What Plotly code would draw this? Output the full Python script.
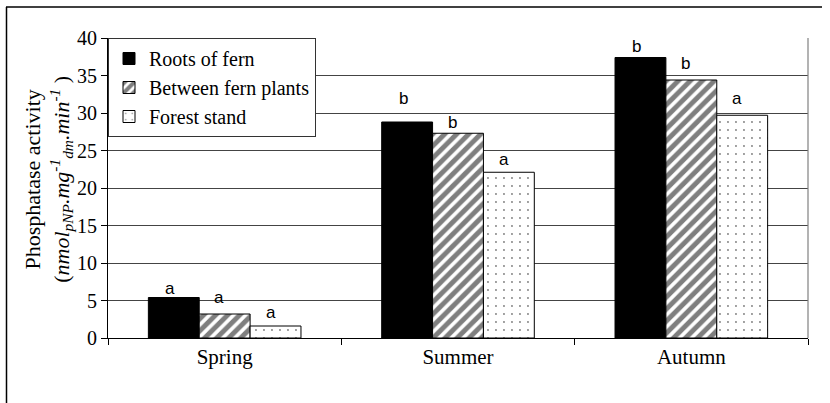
import plotly.graph_objects as go

# Seasonal phosphatase activity for three soil positions
seasons = ["Spring", "Summer", "Autumn"]
series_names = ["Roots of fern", "Between fern plants", "Forest stand"]
roots_of_fern = [5.4, 28.8, 37.4]
between_fern_plants = [3.2, 27.3, 34.4]
forest_stand = [1.6, 22.1, 29.7]
# significance letters above each bar
letters_roots = ["a", "b", "b"]
letters_between = ["a", "b", "b"]
letters_forest = ["a", "a", "a"]
y_ticks = [0, 5, 10, 15, 20, 25, 30, 35, 40]

values = [roots_of_fern, between_fern_plants, forest_stand]
letters = [letters_roots, letters_between, letters_forest]

# fill styles: solid, diagonal hatch, fine staggered dots
styles = [
    dict(color="black", pattern=None),
    dict(color="white", pattern=dict(shape="/", fgcolor="black", bgcolor="white",
                                     size=8.5, solidity=0.58, fillmode="overlay")),
    dict(color="white", pattern=dict(shape=".", fgcolor="black", bgcolor="white",
                                     size=8, solidity=0.045, fillmode="overlay")),
]

fig = go.Figure()
for name, vals, st in zip(series_names, values, styles):
    marker = dict(color=st["color"], line=dict(color="black", width=1))
    if st["pattern"] is not None:
        marker["pattern"] = st["pattern"]
    fig.add_trace(go.Bar(x=seasons, y=vals, name=name, marker=marker))

# letter placement (pixel offsets above each bar top, and horizontal nudge)
lift_px = [[9, 24, 11], [17, 11, 17], [14, 13, 17]]
nudge_px = [-4, -6, -5]
offsets = [-1, 0, 1]  # bar position inside each group
for s in range(3):
    for i, season in enumerate(seasons):
        fig.add_annotation(
            x=i + offsets[s] * (1 - 0.346) / 3, y=values[s][i], xref="x", yref="y",
            text=letters[s][i], showarrow=False, yanchor="middle",
            yshift=lift_px[s][i], xshift=nudge_px[s],
            font=dict(family="Liberation Sans, Arial", size=17, color="black"),
        )

L, R, T, B = 108, 22, 38, 64.5
W, H = 830, 403
pw, ph = W - L - R, H - T - B

def px_x(p):
    return (p - L) / pw

def px_y(p):
    return (H - B - p) / ph

# outer frame (top and left edges)
fig.add_shape(type="line", xref="paper", yref="paper", x0=px_x(6), x1=px_x(822),
              y0=px_y(7), y1=px_y(7), line=dict(color="black", width=1.5))
fig.add_shape(type="line", xref="paper", yref="paper", x0=px_x(6.5), x1=px_x(6.5),
              y0=px_y(7), y1=px_y(410), line=dict(color="black", width=1.5))
# plot-area border on the right
fig.add_shape(type="line", xref="paper", yref="paper", x0=1, x1=1, y0=0, y1=1,
              line=dict(color="#808080", width=1.2))

# y axis title
fig.add_annotation(
    xref="paper", yref="paper", x=px_x(48), y=px_y(180), xanchor="center", yanchor="middle",
    textangle=-90, showarrow=False,
    text="Phosphatase activity<br>(<i>nmol<sub>pNP</sub>.mg<sup>-1</sup><sub>dm</sub>.min<sup>-1</sup></i> )",
    font=dict(family="Liberation Serif, Times New Roman", size=22, color="black"),
)

fig.update_layout(
    width=W, height=H,
    margin=dict(l=L, r=R, t=T, b=B, pad=0),
    paper_bgcolor="white", plot_bgcolor="white",
    barmode="group", bargap=0.346, bargroupgap=0,
    font=dict(family="Liberation Serif, Times New Roman", size=21, color="black"),
    showlegend=True,
    legend=dict(x=0, y=1, xanchor="left", yanchor="top",
                bgcolor="white", bordercolor="#333", borderwidth=1,
                font=dict(size=20), itemwidth=30, tracegroupgap=0,
                traceorder="normal"),
)
fig.update_xaxes(
    type="category", showline=True, linecolor="black", linewidth=1.2,
    ticks="outside", tickson="boundaries", ticklen=6, tickcolor="black",
    tickfont=dict(size=21), showgrid=False, range=[-0.5, 2.5],
)
fig.update_yaxes(
    range=[0, 40], tickvals=y_ticks, showline=True, linecolor="black", linewidth=1.2,
    ticks="outside", ticklen=6, tickcolor="black", tickfont=dict(size=20),
    showgrid=True, gridcolor="#444", gridwidth=1, zeroline=False,
)

fig.write_html("out.html")
